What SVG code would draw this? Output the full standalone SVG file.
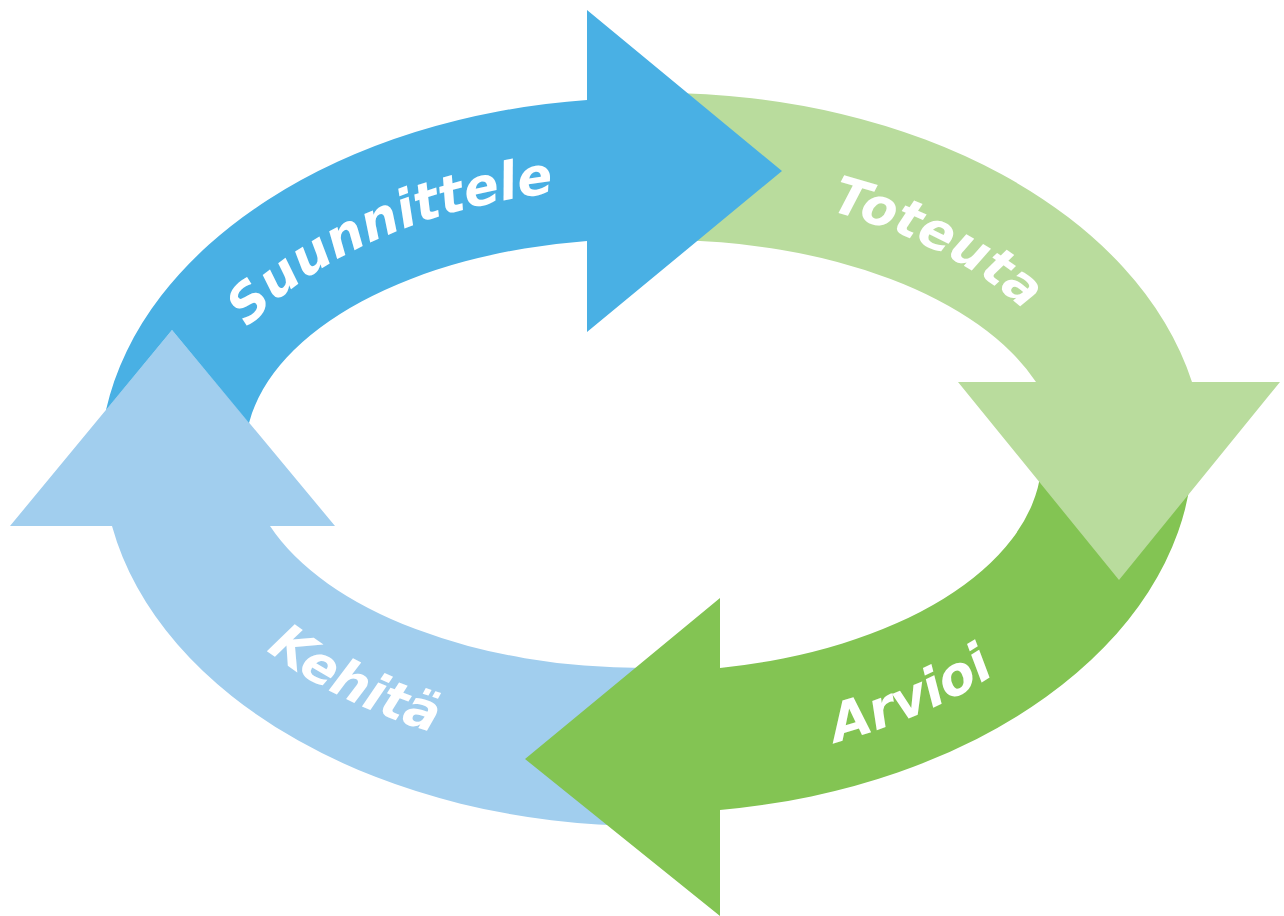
<svg xmlns="http://www.w3.org/2000/svg" width="1284" height="916" viewBox="0 0 1284 916">
<style>
.lbl{font-family:"DejaVu Sans","Liberation Sans",sans-serif;font-weight:bold;font-style:italic;font-size:52px;fill:#ffffff}
</style>
<defs>
<path id="p-suun" d="M 198.9,411.8 A 453 272 0 0 1 723.7,191.1"/>
<path id="p-tot" d="M 723.7,191.1 A 453 272 0 0 1 1082.6,388.6"/>
<path id="p-arv" d="M 729.9,762.3 A 489 308 0 0 0 1088.2,589.2"/>
<path id="p-keh" d="M 201.8,585 A 484 304 0 0 0 560.1,758"/>
</defs>
<rect width="1284" height="916" fill="#ffffff"/>
<g id="node-kehita">
<path fill="#A1CEEE" d="M 645,668 A 397 214 0 0 1 270,526 L 335,526 L 172,330 L 10,526 L 112,526 A 545 367 0 0 0 645,826 Z"/>
<text class="lbl"><textPath href="#p-keh" startOffset="92">Kehitä</textPath></text>
</g>
<g id="node-arvioi">
<path fill="#83C453" d="M 1192,470 A 545 367 0 0 1 720,810 L 720,916 L 525,759 L 720,598 L 720,668 A 397 214 0 0 0 1041,470 Z"/>
<text class="lbl" style="font-size:53px"><textPath href="#p-arv" startOffset="108">Arvioi</textPath></text>
</g>
<g id="node-toteuta">
<path fill="#B9DC9D" d="M 660,93 A 545 367 0 0 1 1192,382 L 1280,382 L 1119,580 L 958,382 L 1036,382 A 397 214 0 0 0 660,240 Z"/>
<text class="lbl"><textPath href="#p-tot" startOffset="108">Toteuta</textPath></text>
</g>
<g id="node-suunnittele">
<path fill="#49B0E4" d="M 106,410 L 172,330 L 249,423 A 397 214 0 0 1 587,241 L 587,332 L 782,171 L 587,10 L 587,100 A 545 367 0 0 0 106,410 Z"/>
<text class="lbl"><textPath href="#p-suun" startOffset="98">Suunnittele</textPath></text>
</g>
</svg>
